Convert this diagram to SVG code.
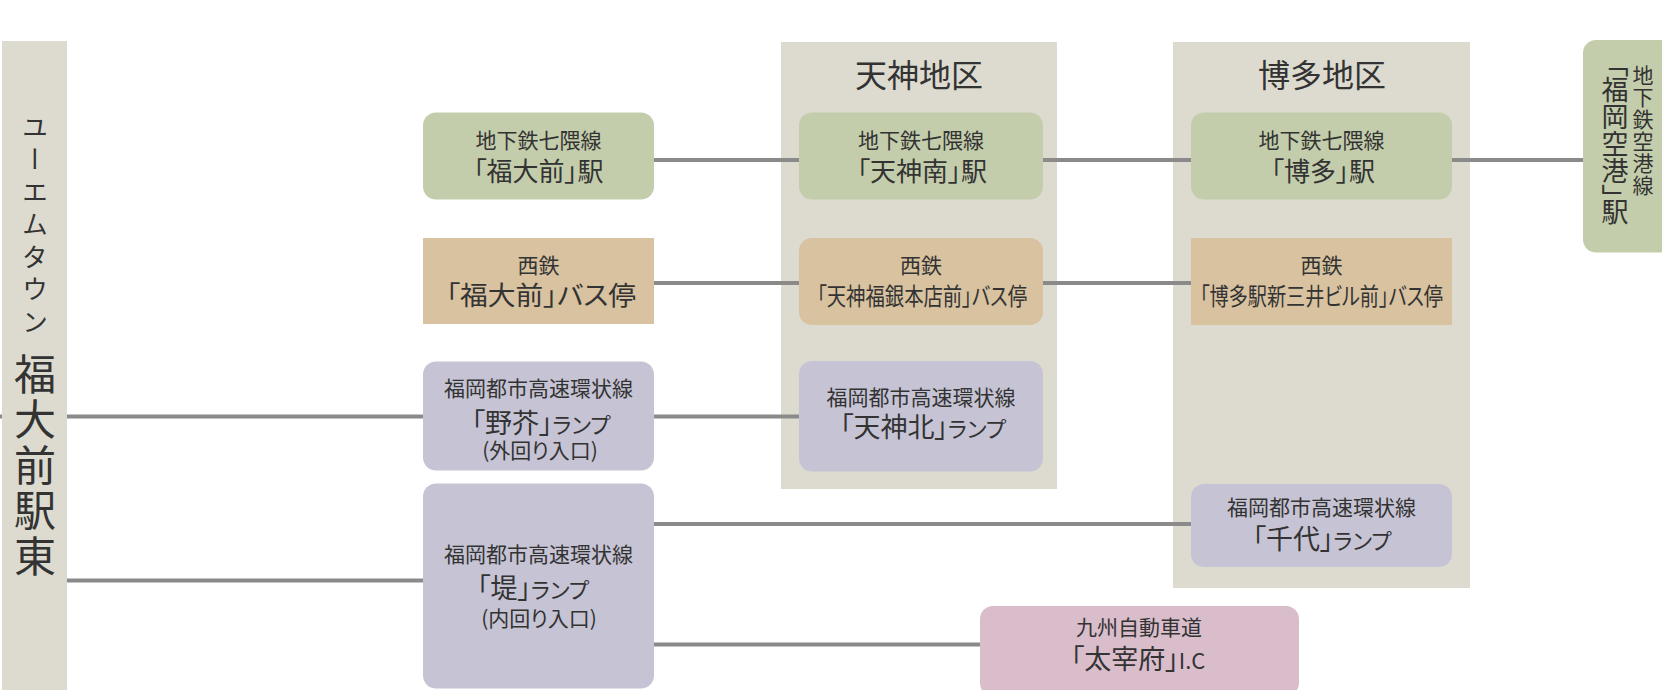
<svg xmlns="http://www.w3.org/2000/svg" width="1662" height="690" viewBox="0 0 1662 690">
<style>
.bg{fill:#ffffff}
.area{fill:#dddbcf}
.green{fill:#c3cdab}
.tan{fill:#d8c2a0}
.lav{fill:#c6c4d4}
.pink{fill:#d9bdcb}
.conn line{stroke:#8a8a8a;stroke-width:4}
text{font-family:"Noto Sans CJK JP","Liberation Serif",sans-serif;fill:#333333;text-anchor:middle;font-feature-settings:"palt" 1}
.s{font-size:21px}
.m{font-size:26px}
.k{font-size:21px}
.ttl{font-size:32px}
.v{writing-mode:vertical-rl;text-anchor:start;font-feature-settings:normal}
.vp{writing-mode:vertical-rl;text-anchor:start;font-feature-settings:"vpal" 1}
.rk{font-size:27px}
.rr{font-size:22px}
</style>
<rect class="bg" x="0" y="0" width="1662" height="690"/>
<g id="tenjin-area">
<rect class="area" x="781" y="42" width="276" height="447"/>
<text class="ttl" x="919" y="87">天神地区</text>
</g>
<g id="hakata-area">
<rect class="area" x="1173" y="42" width="297" height="546"/>
<text class="ttl" x="1322" y="87">博多地区</text>
</g>
<g class="conn" id="connectors">
<line x1="654" y1="160" x2="799" y2="160"/>
<line x1="1043" y1="160" x2="1191" y2="160"/>
<line x1="1452" y1="160" x2="1584" y2="160"/>
<line x1="654" y1="283" x2="799" y2="283"/>
<line x1="1043" y1="283" x2="1191" y2="283"/>
<line x1="0" y1="416.5" x2="424" y2="416.5"/>
<line x1="654" y1="416.5" x2="799" y2="416.5"/>
<line x1="654" y1="524" x2="1191" y2="524"/>
<line x1="66" y1="580.5" x2="424" y2="580.5"/>
<line x1="654" y1="644.5" x2="981" y2="644.5"/>
</g>
<g id="fukudaimae-higashi">
<rect class="area" x="2" y="41" width="65" height="649"/>
<text class="v" x="35" y="114" style="font-size:26px;letter-spacing:6.5px">ユーエムタウン</text>
<text class="v" x="35" y="353" style="font-size:42px;letter-spacing:3.5px">福大前駅東</text>
</g>
<g id="subway-fukudaimae">
<rect class="green" x="423" y="112.5" width="231" height="87" rx="13"/>
<text class="s" x="538.5" y="148">地下鉄七隈線</text>
<text class="m" x="538.5" y="181">「福大前」駅</text>
</g>
<g id="bus-fukudaimae">
<rect class="tan" x="423" y="238" width="231" height="86"/>
<text class="s" x="538.5" y="273">西鉄</text>
<text x="541" y="305" style="font-size:26px" textLength="190" lengthAdjust="spacingAndGlyphs">「福大前」バス停</text>
</g>
<g id="ramp-noke">
<rect class="lav" x="423" y="361.5" width="231" height="109" rx="13"/>
<text class="s" x="538.5" y="395.5">福岡都市高速環状線</text>
<text x="541" y="433"><tspan class="rk">「野芥」</tspan><tspan class="rr">ランプ</tspan></text>
<text class="k" x="540" y="458">(外回り入口)</text>
</g>
<g id="ramp-tsutsumi">
<rect class="lav" x="423" y="483.5" width="231" height="205" rx="13"/>
<text class="s" x="538.5" y="562">福岡都市高速環状線</text>
<text x="533" y="598"><tspan class="rk">「堤」</tspan><tspan class="rr">ランプ</tspan></text>
<text class="k" x="539" y="626">(内回り入口)</text>
</g>
<g id="subway-tenjinminami">
<rect class="green" x="799" y="112.5" width="244" height="87" rx="13"/>
<text class="s" x="921" y="148">地下鉄七隈線</text>
<text class="m" x="922" y="181">「天神南」駅</text>
</g>
<g id="bus-tenjin">
<rect class="tan" x="799" y="238" width="244" height="87" rx="13"/>
<text class="s" x="921" y="273">西鉄</text>
<text x="922" y="305" style="font-size:24px" textLength="210" lengthAdjust="spacingAndGlyphs">「天神福銀本店前」バス停</text>
</g>
<g id="ramp-tenjinkita">
<rect class="lav" x="799" y="361" width="244" height="110.5" rx="13"/>
<text class="s" x="921" y="405">福岡都市高速環状線</text>
<text x="923" y="437"><tspan class="rk">「天神北」</tspan><tspan class="rr">ランプ</tspan></text>
</g>
<g id="subway-hakata">
<rect class="green" x="1191" y="112.5" width="261" height="87" rx="13"/>
<text class="s" x="1321.5" y="148">地下鉄七隈線</text>
<text class="m" x="1323" y="181">「博多」駅</text>
</g>
<g id="bus-hakata">
<rect class="tan" x="1191" y="238" width="261" height="87"/>
<text class="s" x="1321.5" y="273">西鉄</text>
<text x="1321.5" y="305" style="font-size:24px" textLength="243" lengthAdjust="spacingAndGlyphs">「博多駅新三井ビル前」バス停</text>
</g>
<g id="ramp-chiyo">
<rect class="lav" x="1191" y="484" width="261" height="83" rx="13"/>
<text class="s" x="1321.5" y="514.5">福岡都市高速環状線</text>
<text x="1322" y="549"><tspan class="rk">「千代」</tspan><tspan class="rr">ランプ</tspan></text>
</g>
<g id="subway-fukuokakuko">
<rect class="green" x="1583" y="40" width="90" height="212.5" rx="13"/>
<text class="v" x="1643" y="65" style="font-size:21px;letter-spacing:1px">地下鉄空港線</text>
<text class="vp" x="1615" y="63" style="font-size:27px">「福岡空港」駅</text>
</g>
<g id="ic-dazaifu">
<rect class="pink" x="980" y="606" width="319" height="90" rx="13"/>
<text class="s" x="1139" y="635">九州自動車道</text>
<text x="1138" y="669"><tspan class="rk">「太宰府」</tspan><tspan style="font-size:22px">I.C</tspan></text>
</g>
</svg>
